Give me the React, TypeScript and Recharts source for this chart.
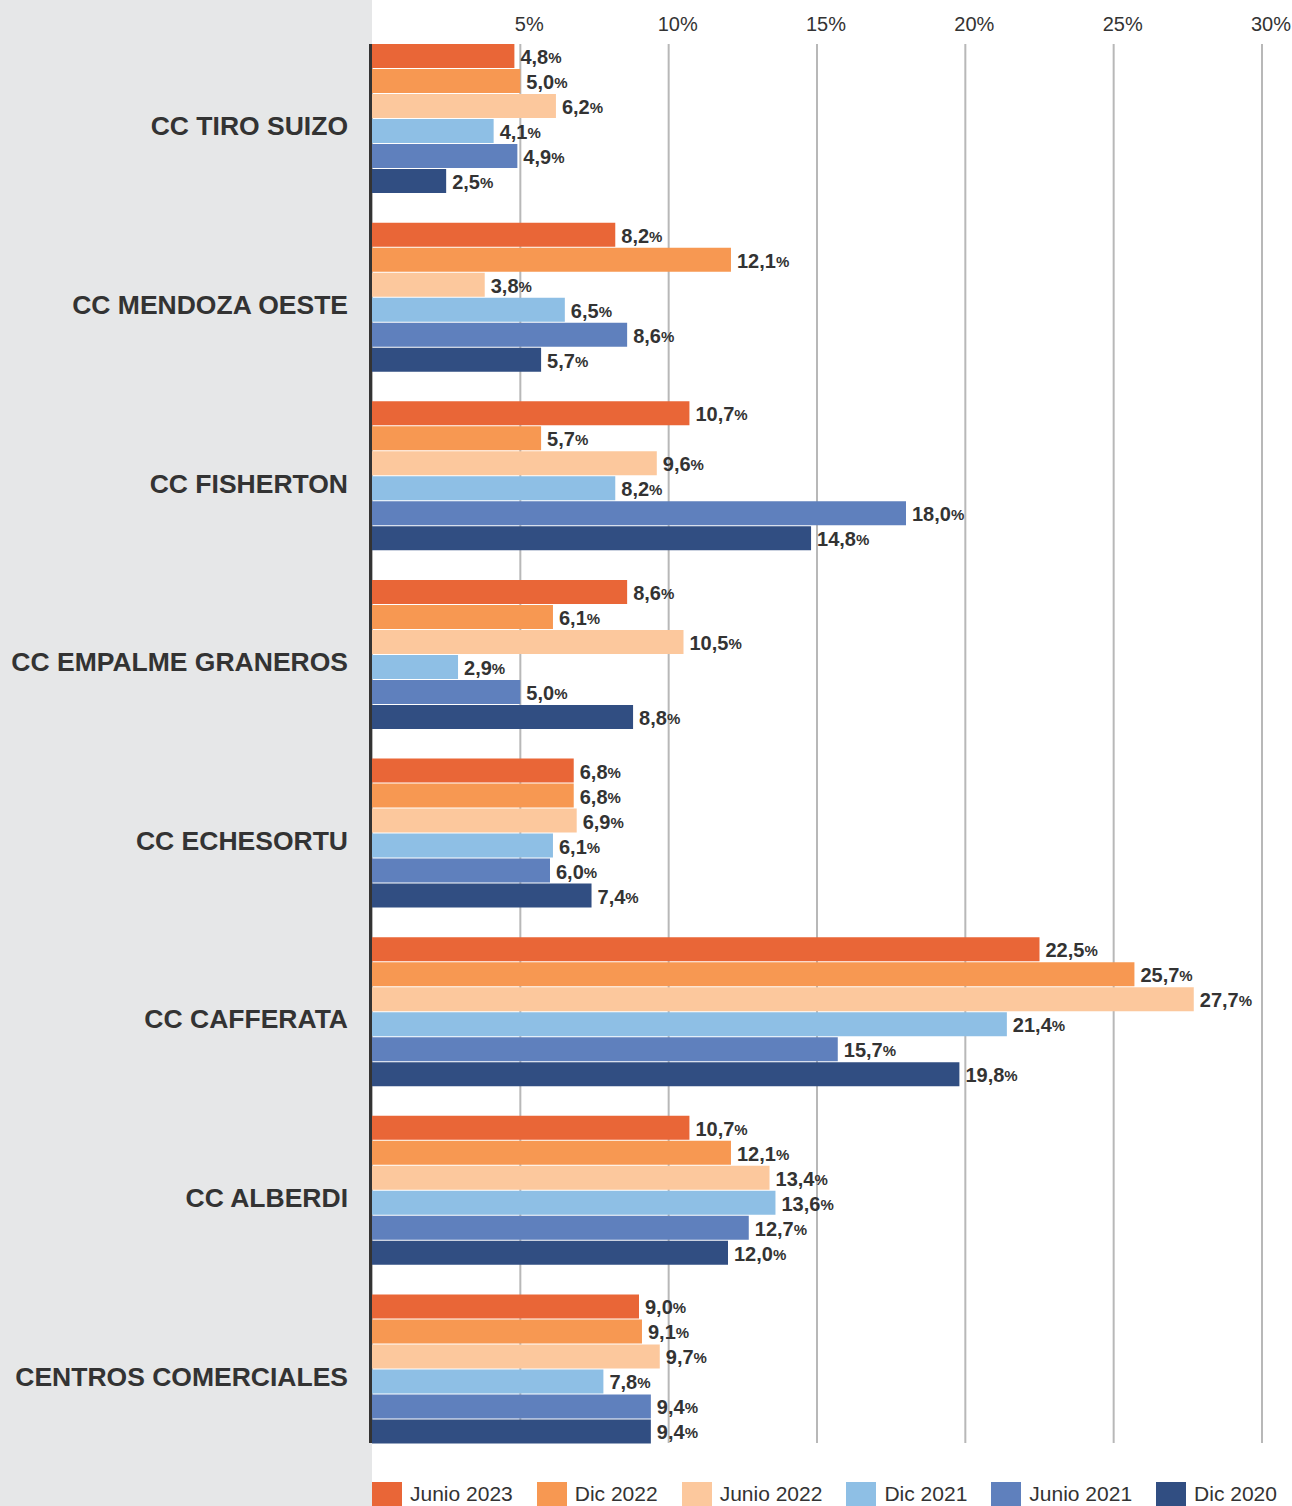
import React from 'react';
import { BarChart, Bar, XAxis, YAxis, CartesianGrid, LabelList } from 'recharts';

const categories = [
  'CC TIRO SUIZO',
  'CC MENDOZA OESTE',
  'CC FISHERTON',
  'CC EMPALME GRANEROS',
  'CC ECHESORTU',
  'CC CAFFERATA',
  'CC ALBERDI',
  'CENTROS COMERCIALES',
];

const junio2023 = [4.8, 8.2, 10.7, 8.6, 6.8, 22.5, 10.7, 9.0];
const dic2022 = [5.0, 12.1, 5.7, 6.1, 6.8, 25.7, 12.1, 9.1];
const junio2022 = [6.2, 3.8, 9.6, 10.5, 6.9, 27.7, 13.4, 9.7];
const dic2021 = [4.1, 6.5, 8.2, 2.9, 6.1, 21.4, 13.6, 7.8];
const junio2021 = [4.9, 8.6, 18.0, 5.0, 6.0, 15.7, 12.7, 9.4];
const dic2020 = [2.5, 5.7, 14.8, 8.8, 7.4, 19.8, 12.0, 9.4];

const xTicks = [5, 10, 15, 20, 25, 30];

const series = [
  { key: 'junio2023', name: 'Junio 2023', values: junio2023, color: '#e96637' },
  { key: 'dic2022', name: 'Dic 2022', values: dic2022, color: '#f79852' },
  { key: 'junio2022', name: 'Junio 2022', values: junio2022, color: '#fcc89d' },
  { key: 'dic2021', name: 'Dic 2021', values: dic2021, color: '#8ebfe5' },
  { key: 'junio2021', name: 'Junio 2021', values: junio2021, color: '#5f80bd' },
  { key: 'dic2020', name: 'Dic 2020', values: dic2020, color: '#314e82' },
];

const data = categories.map((name, i) => {
  const row: Record<string, string | number> = { name };
  series.forEach((s) => {
    row[s.key] = s.values[i];
  });
  return row;
});

const FONT = '"Liberation Sans", Arial, sans-serif';
const TEXT = '#333333';

// eslint-disable-next-line @typescript-eslint/no-explicit-any
function CategoryTick({ y, payload }: any) {
  return (
    <text
      x={348}
      y={y + 8}
      textAnchor="end"
      dominantBaseline="central"
      fontFamily={FONT}
      fontWeight={700}
      fontSize={26.5}
      fill={TEXT}
    >
      {payload.value}
    </text>
  );
}

// eslint-disable-next-line @typescript-eslint/no-explicit-any
function PercentTick({ x, payload }: any) {
  return (
    <text x={x + 9} y={31} textAnchor="middle" fontFamily={FONT} fontSize={20} fill={TEXT}>
      {payload.value}%
    </text>
  );
}

// eslint-disable-next-line @typescript-eslint/no-explicit-any
function ValueLabel({ x, y, width, height, value }: any) {
  const txt = Number(value).toFixed(1).replace('.', ',');
  return (
    <text
      x={x + width + 6}
      y={y + height / 2 + 1}
      dominantBaseline="central"
      fontFamily={FONT}
      fontWeight={700}
      fontSize={20}
      fill={TEXT}
    >
      {txt}
      <tspan fontSize={15}>%</tspan>
    </text>
  );
}

export default function App() {
  return (
    <div
      style={{
        position: 'absolute',
        left: 0,
        top: 0,
        width: 1292,
        height: 1506,
        background: '#ffffff',
        fontFamily: FONT,
        overflow: 'hidden',
      }}
    >
      <div style={{ position: 'absolute', left: 0, top: 0, width: 372, height: 1506, background: '#e6e7e8' }} />
      <div style={{ position: 'absolute', left: 0, top: 0 }}>
        <BarChart
          width={1292}
          height={1506}
          data={data}
          layout="vertical"
          margin={{ top: 0, right: 30, left: 0, bottom: 48 }}
          barSize={24}
          barGap={1}
        >
          <CartesianGrid
            horizontal={false}
            vertical
            stroke="#b8b8b8"
            strokeWidth={2}
            y={44}
            height={1399}
          />
          <CartesianGrid
            horizontal={false}
            vertical
            verticalPoints={[370.5]}
            stroke="#333333"
            strokeWidth={3}
            y={44}
            height={1399}
          />
          <XAxis
            type="number"
            orientation="top"
            domain={[0, 30]}
            ticks={xTicks}
            height={29}
            axisLine={false}
            tickLine={false}
            tick={<PercentTick />}
          />
          <YAxis
            type="category"
            dataKey="name"
            width={372}
            axisLine={false}
            tickLine={false}
            tick={<CategoryTick />}
          />
          {series.map((s) => (
            <Bar key={s.key} dataKey={s.key} name={s.name} fill={s.color} isAnimationActive={false}>
              <LabelList dataKey={s.key} content={<ValueLabel />} />
            </Bar>
          ))}
        </BarChart>
      </div>
      <div
        style={{
          position: 'absolute',
          left: 372,
          top: 1482,
          display: 'flex',
          alignItems: 'flex-start',
          whiteSpace: 'nowrap',
        }}
      >
        {series.map((s) => (
          <div key={s.key} style={{ display: 'flex', alignItems: 'flex-start', marginRight: 24, flexShrink: 0 }}>
            <div style={{ width: 30, height: 24, background: s.color }} />
            <span style={{ marginLeft: 8, fontSize: 21, lineHeight: '24px', color: TEXT }}>{s.name}</span>
          </div>
        ))}
      </div>
    </div>
  );
}
